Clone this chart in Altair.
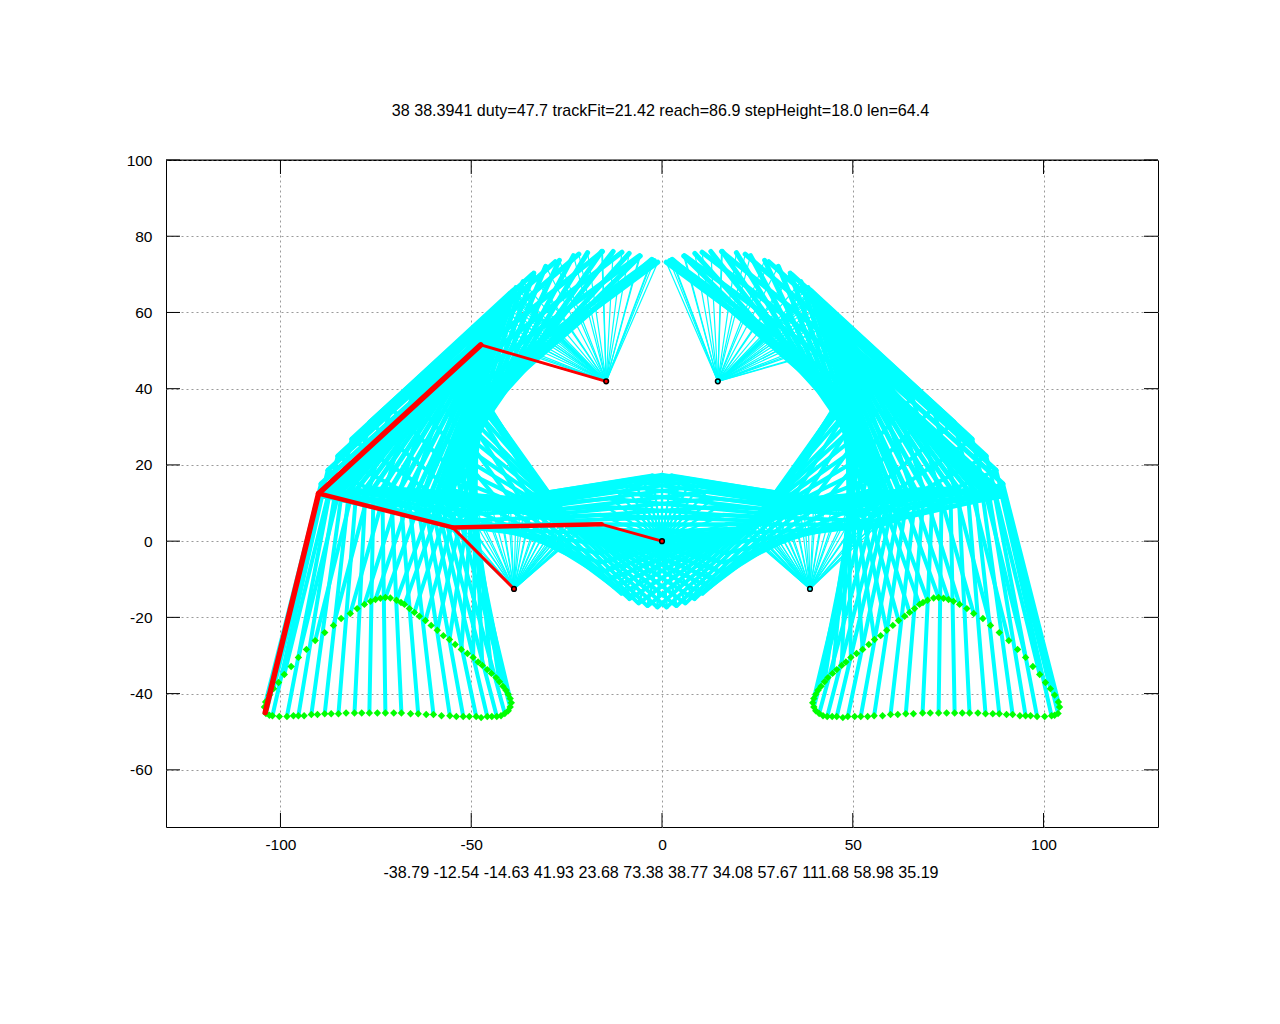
import altair as alt
import pandas as pd

title_text = "38 38.3941 duty=47.7 trackFit=21.42 reach=86.9 stepHeight=18.0 len=64.4"
bottom_text = "-38.79 -12.54 -14.63 41.93 23.68 73.38 38.77 34.08 57.67 111.68 58.98 35.19"

x_ticks = [-100, -50, 0, 50, 100]
y_ticks = [-60, -40, -20, 0, 20, 40, 60, 80, 100]

# foot path, left leg
foot_x = [-103.8,-102.9,-102.1,-100.3,-98.3,-96.6,-95.3,-93.8,-91.9,-90.3,-88.4,-86.7,-84.8,-82.8,-80.6,-78.7,-76.7,-74.6,-72.5,-70.3,-68.3,-65.9,-63.9,-61.8,-59.9,-57.8,-55.6,-53.9,-52.1,-50.5,-48.7,-47.4,-45.8,-44.6,-43.3,-42.2,-41.2,-40.3,-39.8,-39.5,-39.8,-40.3,-40.9,-41.7,-42.6,-43.5,-44.7,-45.8,-47.1,-48.2,-49.5,-51.0,-52.6,-54.2,-55.7,-57.3,-58.9,-60.5,-62.0,-63.6,-64.9,-66.2,-67.5,-68.4,-69.6,-71.2,-72.5,-73.8,-75.1,-76.4,-78.0,-79.9,-81.7,-84.1,-86.1,-88.4,-90.9,-93.2,-95.3,-97.2,-99.0,-100.5,-101.8,-102.9,-103.9,-104.2]
foot_y = [-45.2,-45.7,-45.8,-46.0,-46.0,-45.8,-45.8,-45.8,-45.5,-45.5,-45.3,-45.3,-45.3,-45.1,-45.1,-45.1,-45.1,-45.1,-45.1,-45.1,-45.1,-45.3,-45.3,-45.5,-45.5,-45.8,-45.8,-46.0,-46.0,-46.0,-46.0,-46.3,-46.0,-46.0,-46.0,-45.8,-45.2,-44.5,-43.5,-42.4,-41.3,-40.2,-39.1,-38.1,-36.9,-35.8,-34.7,-33.7,-32.6,-31.7,-30.5,-29.5,-28.4,-27.1,-25.8,-24.8,-23.4,-22.1,-20.8,-19.7,-18.7,-17.7,-16.6,-16.1,-15.5,-14.9,-14.8,-15.0,-15.3,-15.8,-16.6,-17.7,-19.0,-20.3,-22.1,-24.0,-26.1,-28.4,-30.5,-32.9,-35.0,-37.1,-38.7,-40.4,-42.2,-43.5]

# joints of each drawn frame; the foot of a frame is every other foot point
c_x = [-47.4,-47.3,-46.8,-46.3,-45.6,-44.9,-44.3,-43.4,-42.7,-42.0,-41.2,-40.6,-40.2,-39.9,-39.7,-39.4,-39.2,-39.1,-38.3,-36.4,-33.6,-30.5,-26.9,-23.2,-19.5,-15.8,-12.8,-8.6,-5.7,-2.7,-2.0,-1.1,-2.5,-5.9,-10.5,-15.6,-21.8,-28.0,-34.0,-38.9,-42.6,-45.0,-46.6]
c_y = [51.2,51.5,53.1,54.5,56.2,57.6,58.8,60.2,61.3,62.3,63.3,64.0,64.5,64.8,65.0,65.3,65.5,65.6,66.5,68.1,70.3,72.1,73.7,74.9,75.7,76.0,76.0,75.5,74.8,73.9,73.6,73.2,73.8,74.9,75.8,76.0,75.3,73.3,70.0,65.9,61.4,57.5,53.7]
b_x = [-89.8,-89.1,-87.2,-85.7,-83.9,-82.0,-80.1,-77.7,-75.6,-73.3,-71.0,-68.7,-66.6,-64.4,-62.6,-60.8,-59.3,-58.1,-56.6,-55.0,-53.5,-52.5,-51.4,-50.4,-49.5,-48.6,-48.3,-47.2,-46.8,-46.3,-47.0,-47.5,-49.1,-52.4,-56.2,-60.4,-65.6,-71.1,-76.6,-81.3,-85.0,-87.6,-89.4]
b_y = [12.1,11.7,12.0,12.4,13.0,13.4,13.5,13.8,13.9,13.9,13.9,13.6,13.2,12.6,12.1,11.8,11.4,11.1,11.8,13.5,16.1,18.8,21.5,24.0,26.4,28.5,30.5,32.6,34.4,36.1,37.5,38.9,39.9,40.7,40.6,39.7,37.8,35.0,31.2,26.8,22.3,18.6,15.0]
a_x = [-55.5,-54.5,-52.4,-50.8,-49.0,-47.0,-45.0,-42.6,-40.5,-38.2,-35.9,-33.6,-31.5,-29.4,-27.6,-25.9,-24.4,-23.4,-22.2,-21.2,-20.8,-21.0,-21.2,-21.6,-22.1,-22.6,-23.5,-24.1,-25.0,-25.9,-27.4,-29.0,-30.9,-34.0,-37.0,-39.8,-43.0,-46.4,-49.7,-52.1,-54.0,-55.4,-56.0]
a_y = [4.3,5.2,6.9,7.9,8.8,9.7,10.3,10.8,11.1,11.1,11.0,10.6,10.0,9.2,8.3,7.3,6.3,5.4,4.4,3.4,2.9,3.1,3.3,3.7,4.3,4.7,5.5,6.0,6.7,7.4,8.2,9.0,9.8,10.6,11.1,11.1,10.8,9.9,8.5,7.0,5.6,4.3,3.7]
t_x = [-16.8,-16.0,-14.8,-13.3,-11.6,-9.6,-7.3,-4.9,-2.5,0.1,2.6,5.1,7.4,9.7,11.7,13.4,14.9,16.0,16.9,17.3,17.4,17.1,16.4,15.4,14.1,12.5,10.6,8.5,6.1,3.7,1.2,-1.3,-3.9,-6.3,-8.6,-10.7,-12.6,-14.2,-15.5,-16.5,-17.1,-17.4,-17.3]
t_y = [4.5,6.9,9.1,11.2,13.0,14.5,15.8,16.7,17.2,17.4,17.2,16.6,15.7,14.5,12.9,11.1,9.0,6.7,4.3,1.8,-0.7,-3.2,-5.7,-8.0,-10.2,-12.1,-13.8,-15.2,-16.3,-17.0,-17.4,-17.3,-17.0,-16.2,-15.1,-13.7,-12.0,-10.1,-7.9,-5.5,-3.1,-0.6,2.0]

# fixed pivots: crank centre, upper rocker, lower rocker
pivot_x = [0.0, -14.63, -38.79]
pivot_y = [0.0, 41.93, -12.54]

# highlighted frame
red_f = (-104.0, -45.0)
red_b = (-90.0, 12.5)
red_c = (-47.5, 51.5)
red_a = (-54.9, 3.6)
red_t = (-15.8, 4.4)

fr_fx = foot_x[::2]
fr_fy = foot_y[::2]
n = len(c_x)


def segs(x1, y1, x2, y2):
    rows = []
    for s in (1, -1):
        for a, b, c, d in zip(x1, y1, x2, y2):
            rows.append({"x": s * a, "y": b, "x2": s * c, "y2": d})
    return pd.DataFrame(rows)


X = alt.Scale(domain=[-130, 130], nice=False, zero=False)
Y = alt.Scale(domain=[-75, 100], nice=False, zero=False)


def rules(df, color, width):
    return alt.Chart(df).mark_rule(color=color, strokeWidth=width, strokeCap="round").encode(
        x=alt.X("x:Q", scale=X), y=alt.Y("y:Q", scale=Y), x2="x2:Q", y2="y2:Q")


FONT = "Liberation Sans"
GRID = dict(grid=True, gridColor="#9a9a9a", gridDash=[2, 3], gridWidth=1, ticks=False, domain=False,
            labelFont=FONT, labelFontSize=15.5, labelColor="#000000", titleFont=FONT,
            titleFontSize=16.1, titleColor="#000000", titleFontWeight="normal",
            labelExpr="'' + datum.value")

base = alt.Chart(pd.DataFrame({"x": [0.0], "y": [0.0]})).mark_point(opacity=0).encode(
    x=alt.X("x:Q", scale=X, axis=alt.Axis(values=x_ticks, title=bottom_text, labelPadding=10, titlePadding=12, titleX=494.5, **GRID)),
    y=alt.Y("y:Q", scale=Y, axis=alt.Axis(values=y_ticks, title=None, labelPadding=14, **GRID)),
)

px = [0.0] * n
py = [0.0] * n
g1x = [pivot_x[2]] * n
g1y = [pivot_y[2]] * n
g2x = [pivot_x[1]] * n
g2y = [pivot_y[1]] * n

CY = "#00ffff"
layers = [
    base,
    rules(segs(fr_fx, fr_fy, b_x, b_y), CY, 4),
    rules(segs(b_x, b_y, c_x, c_y), CY, 5),
    rules(segs(b_x, b_y, a_x, a_y), CY, 4),
    rules(segs(a_x, a_y, t_x, t_y), CY, 4),
    rules(segs(t_x, t_y, px, py), CY, 2),
    rules(segs(a_x, a_y, g1x, g1y), CY, 1.2),
    rules(segs(c_x, c_y, g2x, g2y), CY, 1.2),
]

green = pd.DataFrame({"x": foot_x + [-v for v in foot_x], "y": foot_y + foot_y})
layers.append(alt.Chart(green).mark_point(shape="diamond", filled=True, color="#00ff00", size=55, opacity=1).encode(
    x=alt.X("x:Q", scale=X), y=alt.Y("y:Q", scale=Y)))

R = "#ff0000"


def red(p, q, width):
    return alt.Chart(pd.DataFrame([{"x": p[0], "y": p[1], "x2": q[0], "y2": q[1]}])).mark_rule(
        color=R, strokeWidth=width, strokeCap="round").encode(
        x=alt.X("x:Q", scale=X), y=alt.Y("y:Q", scale=Y), x2="x2:Q", y2="y2:Q")


layers += [
    red(red_f, red_b, 5.5),
    red(red_b, red_c, 5.5),
    red(red_b, red_a, 4.5),
    red(red_a, red_t, 4.5),
    red(red_t, (pivot_x[0], pivot_y[0]), 3),
    red(red_a, (pivot_x[2], pivot_y[2]), 3),
    red(red_c, (pivot_x[1], pivot_y[1]), 3),
]

piv = pd.DataFrame({"x": pivot_x + [-v for v in pivot_x[1:]], "y": pivot_y + pivot_y[1:],
                    "f": ["#ff0000"] * 3 + ["#00ffff"] * 2})
layers.append(alt.Chart(piv).mark_point(shape="circle", filled=True, size=22, stroke="#000000", strokeWidth=1.5, opacity=1).encode(
    x=alt.X("x:Q", scale=X), y=alt.Y("y:Q", scale=Y), fill=alt.Fill("f:N", scale=None)))

xt = pd.DataFrame({"v": x_ticks})
yt = pd.DataFrame({"v": y_ticks})
L = 14
W, H = 992, 667
tick = dict(color="#000000", strokeWidth=1)
layers += [
    alt.Chart(xt).mark_rule(**tick).encode(x=alt.X("v:Q", scale=X), y=alt.value(0), y2=alt.value(L)),
    alt.Chart(xt).mark_rule(**tick).encode(x=alt.X("v:Q", scale=X), y=alt.value(H - L), y2=alt.value(H)),
    alt.Chart(yt).mark_rule(**tick).encode(y=alt.Y("v:Q", scale=Y), x=alt.value(0), x2=alt.value(L)),
    alt.Chart(yt).mark_rule(**tick).encode(y=alt.Y("v:Q", scale=Y), x=alt.value(W - L), x2=alt.value(W)),
    alt.Chart(pd.DataFrame({"v": [0]})).mark_rule(**tick).encode(x=alt.value(0), x2=alt.value(W), y=alt.value(0)),
]

chart = alt.layer(*layers).properties(
    width=W, height=H, background="#ffffff",
    title=alt.TitleParams(title_text, font=FONT, fontSize=16.1, fontWeight="normal", color="#000000",
                          anchor="middle", offset=34, dx=-1.5),
    padding={"left": 158, "top": 152, "right": 100, "bottom": 150},
    autosize=alt.AutoSizeParams(type="none"),
).configure_view(stroke="#000000", strokeWidth=1)

chart.save("out.html", embed_options={"renderer": "svg", "actions": False})
